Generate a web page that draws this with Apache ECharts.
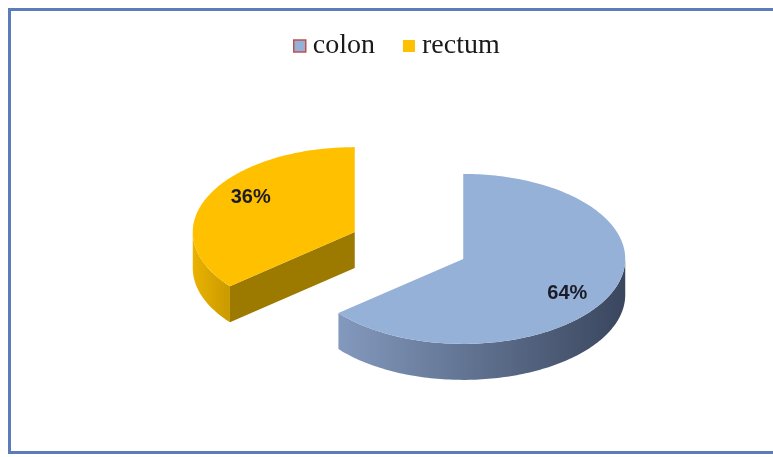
<!DOCTYPE html>
<html>
<head>
<meta charset="utf-8">
<script src="https://cdn.jsdelivr.net/npm/echarts@6/dist/echarts.min.js"></script>
<style>
  html, body { margin: 0; padding: 0; background: #ffffff; overflow: hidden; }
  #chart { width: 773px; height: 457px; }
</style>
</head>
<body>
<div id="chart"></div>
<script>
// Share of tumour location
const categories = ['colon', 'rectum'];
const values = [64, 36];

// Colours per slice: top face, outer wall gradient (left -> right), cut face
const topColors = ['#95b1d8', '#ffc000'];
const wallColors = [['#8399bd', '#3a465e'], ['#eab200', '#c99a00']];
const faceColors = ['#5d7090', '#9c7a00'];

// Tilted-pie geometry
const geo = { cx: 409, cy: 245.5, rx: 162, ry: 85, depth: 36, explode: 0.37 };

const total = values.reduce((a, b) => a + b, 0);
const starts = [];
values.reduce((acc, v, i) => { starts[i] = acc; return acc + v; }, 0);

function buildSlice(i) {
  const a0 = starts[i] / total * Math.PI * 2;
  const a1 = (starts[i] + values[i]) / total * Math.PI * 2;
  const mid = (a0 + a1) / 2;
  // exploded apex of the slice
  const ax = geo.cx + geo.explode * geo.rx * Math.sin(mid);
  const ay = geo.cy - geo.explode * geo.ry * Math.cos(mid);
  const pt = (t, dz) => [ax + geo.rx * Math.sin(t), ay - geo.ry * Math.cos(t) + (dz || 0)];
  const arc = (t0, t1, dz) => {
    const n = Math.max(2, Math.ceil((t1 - t0) / 0.02));
    const out = [];
    for (let k = 0; k <= n; k++) out.push(pt(t0 + (t1 - t0) * k / n, dz));
    return out;
  };
  const children = [];
  const d = geo.depth;

  // radial cut faces that turn towards the viewer
  const faceAt = (t) => ({
    type: 'polygon',
    shape: { points: [[ax, ay], pt(t), pt(t, d), [ax, ay + d]] },
    style: { fill: faceColors[i] }
  });
  if (Math.cos(a0 - Math.PI / 2) < -0.01) children.push(faceAt(a0));
  if (Math.cos(a1 + Math.PI / 2) < -0.01) children.push(faceAt(a1));

  // outer curved wall, front half only
  const w0 = Math.max(a0, Math.PI / 2), w1 = Math.min(a1, Math.PI * 1.5);
  if (w1 > w0) {
    const topArc = arc(w0, w1, 0);
    const botArc = arc(w0, w1, d).reverse();
    children.push({
      type: 'polygon',
      shape: { points: topArc.concat(botArc) },
      style: {
        fill: {
          type: 'linear', x: 1, y: 0, x2: 0, y2: 0,
          colorStops: [
            { offset: 0, color: wallColors[i][1] },
            { offset: 1, color: wallColors[i][0] }
          ]
        }
      }
    });
  }

  // top face
  children.push({
    type: 'polygon',
    shape: { points: [[ax, ay]].concat(arc(a0, a1, 0)) },
    style: { fill: topColors[i] }
  });

  // percentage label
  const pct = Math.round(values[i] / total * 100) + '%';
  children.push({
    type: 'text',
    style: {
      text: pct,
      x: ax + 0.71 * geo.rx * Math.sin(mid),
      y: ay - 0.95 * geo.ry * Math.cos(mid),
      align: 'center',
      verticalAlign: 'middle',
      fontFamily: '"Liberation Sans", Arial, sans-serif',
      fontWeight: 'bold',
      fontSize: 20,
      fill: '#1c1c28'
    }
  });
  return { type: 'group', children: children };
}

// back slice first so the front one paints over it
const order = [1, 0];
const series = order.map(i => ({
  type: 'custom',
  name: categories[i],
  coordinateSystem: 'none',
  silent: true,
  itemStyle: { color: topColors[i] },
  data: [values[i]],
  renderItem: () => buildSlice(i)
}));

const chart = echarts.init(document.getElementById('chart'), null, { renderer: 'canvas' });
chart.setOption({
  animation: false,
  backgroundColor: '#ffffff',
  graphic: [{
    // frame open on the right side
    type: 'polyline',
    shape: { points: [[1200, 9.5], [9.5, 9.5], [9.5, 452.5], [1200, 452.5]] },
    style: { fill: 'none', stroke: '#5b7cb6', lineWidth: 3 },
    silent: true,
    z: 100
  }],
  legend: {
    left: 288,
    top: 27,
    icon: 'rect',
    itemWidth: 12,
    itemHeight: 12,
    itemGap: 28,
    selectedMode: false,
    textStyle: {
      fontFamily: '"Liberation Serif", "Times New Roman", serif',
      fontSize: 28,
      color: '#1a1a1a',
      padding: [0, 0, 0, 2]
    },
    data: [
      { name: 'colon', itemStyle: { color: '#95b1d8', borderColor: '#c0504d', borderWidth: 1.5 } },
      { name: 'rectum', itemStyle: { color: '#ffc000' } }
    ]
  },
  series: series
});
</script>
</body>
</html>
